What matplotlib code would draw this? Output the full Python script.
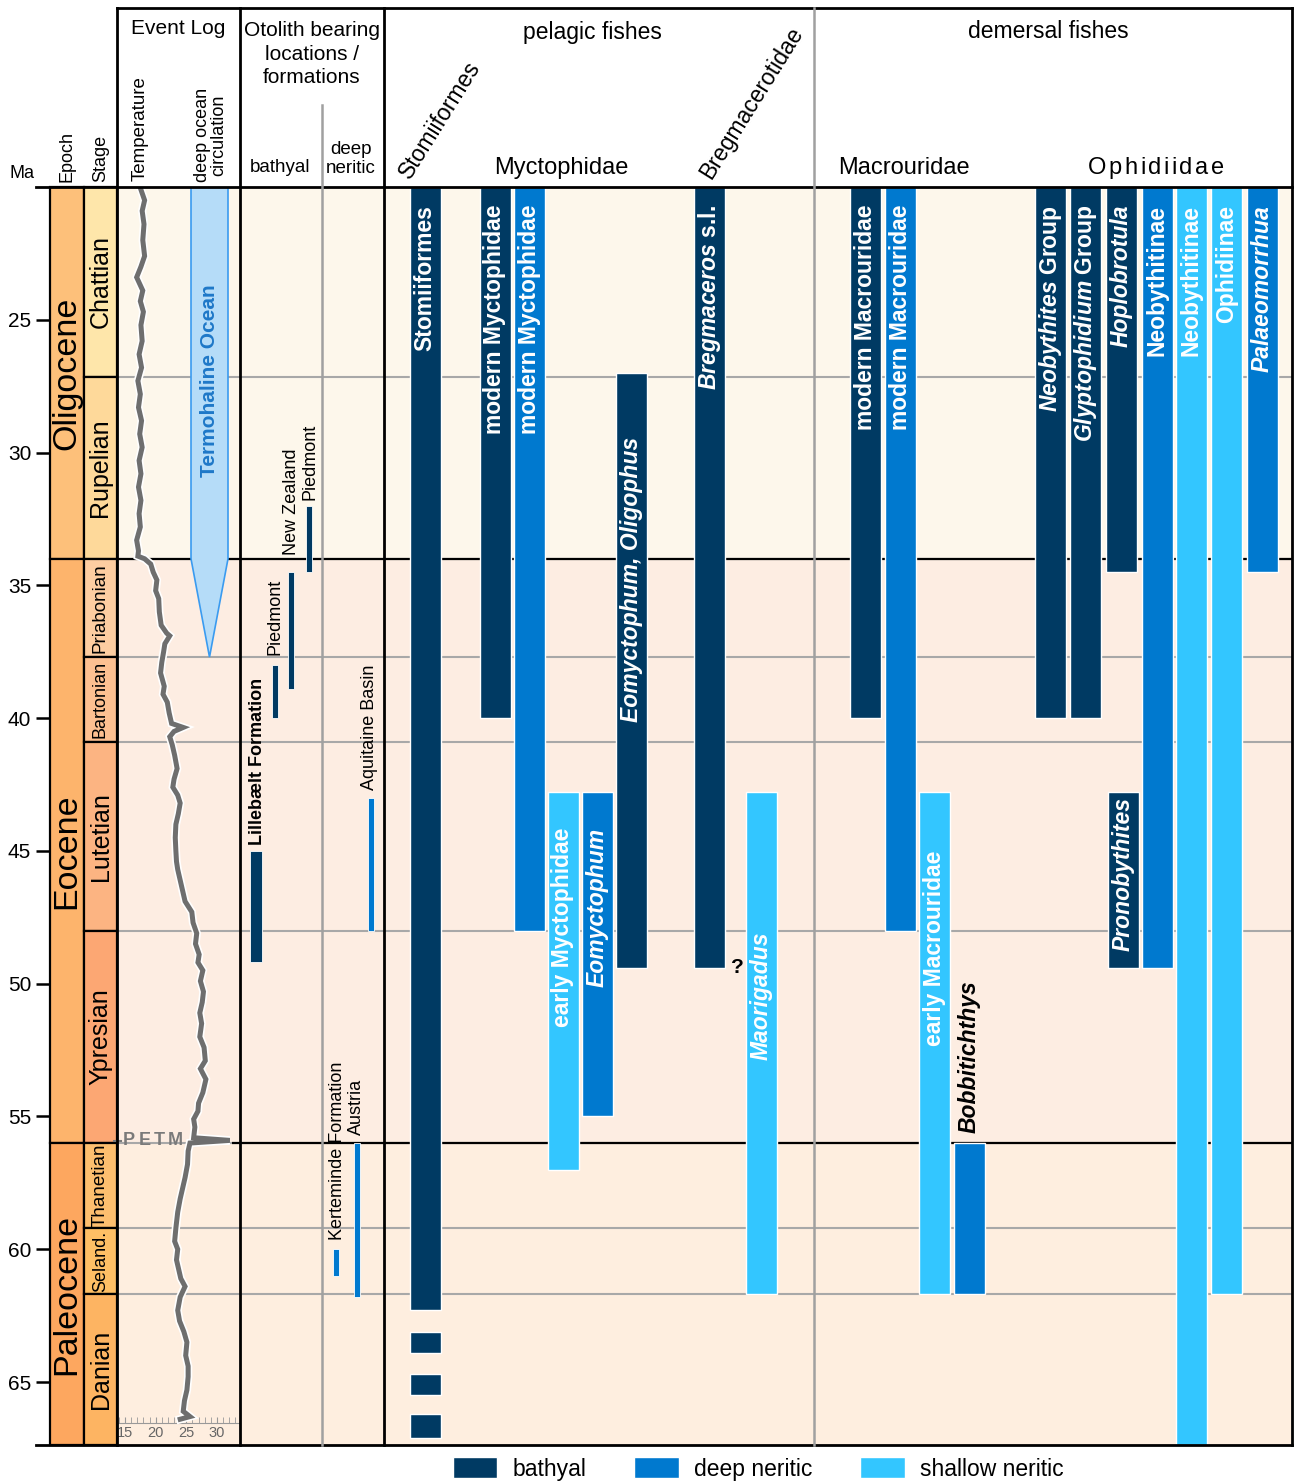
import numpy as np
import matplotlib.pyplot as plt
from matplotlib.patches import Rectangle, Polygon, Patch
import matplotlib.patheffects as pe

plt.rcParams['font.family'] = ['Liberation Sans', 'DejaVu Sans']
plt.rcParams['mathtext.fontset'] = 'custom'
plt.rcParams['mathtext.it'] = 'Liberation Sans:italic:bold'
plt.rcParams['mathtext.rm'] = 'Liberation Sans:bold'

# ==========================================
# Data
# ==========================================
ma_top, ma_base = 20.0, 67.37
ma_ticks = [25, 30, 35, 40, 45, 50, 55, 60, 65]

epochs = ['Oligocene', 'Eocene', 'Paleocene']
epoch_top = [20.0, 34.0, 56.0]
epoch_base = [34.0, 56.0, 67.37]
epoch_colors = ['#FDC07A', '#FDB46C', '#FDA75F']
epoch_bg = ['#FDF7EB', '#FDEDE2', '#FEEEDF']

stages = ['Chattian', 'Rupelian', 'Priabonian', 'Bartonian', 'Lutetian',
          'Ypresian', 'Thanetian', 'Seland.', 'Danian']
stage_top = [20.0, 27.15, 34.0, 37.7, 40.9, 48.0, 56.0, 59.2, 61.7]
stage_base = [27.15, 34.0, 37.7, 40.9, 48.0, 56.0, 59.2, 61.7, 67.37]
stage_colors = ['#FEE6AA', '#FED99A', '#FDCDA1', '#FDC091', '#FCB482',
                '#FCA773', '#FDBF6F', '#FEBF65', '#FDB462']
stage_fs = [18, 18, 13.5, 13, 18, 18, 13.5, 13, 18]

# benthic temperature log (Ma, deg C)
temp_ma = [20.1, 20.5, 20.9, 21.4, 22.0, 22.6, 23.0, 23.4, 23.7, 23.9, 24.3, 24.7,
           25.2, 25.8, 26.3, 26.8, 27.3, 27.8, 28.3, 28.8, 29.3, 29.8, 30.3, 30.8,
           31.3, 31.8, 32.3, 32.8, 33.3, 33.7, 33.9, 34.0, 34.2, 34.5, 34.8, 35.2,
           35.5, 36.0, 36.5, 36.8, 36.9, 37.2, 37.5, 37.9, 38.3, 38.8, 39.1, 39.4,
           39.8, 40.2, 40.35, 40.5, 40.7, 41.0, 41.4, 41.9, 42.3, 42.6, 42.9, 43.2,
           43.6, 44.0, 44.5, 45.0, 45.4, 45.7, 46.1, 46.4, 46.9, 47.3, 47.7, 48.1,
           48.5, 48.9, 49.2, 49.5, 49.9, 50.3, 50.7, 51.1, 51.5, 52.0, 52.4, 52.9,
           53.2, 53.6, 54.1, 54.5, 54.8, 55.1, 55.4, 55.8, 55.9, 56.0, 56.3, 56.8,
           57.3, 57.7, 58.1, 58.6, 59.2, 59.7, 60.0, 60.4, 60.8, 61.1, 61.4, 61.8,
           62.3, 62.7, 63.1, 63.5, 64.0, 64.4, 64.8, 65.3, 65.7, 66.1, 66.3, 66.4]
temp_c = [17.6, 18.2, 17.8, 18.1, 17.9, 18.2, 17.6, 16.9, 17.5, 17.9, 17.5, 18.0,
          17.6, 17.8, 17.3, 17.7, 17.1, 17.5, 17.2, 17.7, 17.4, 17.8, 17.3, 17.6,
          17.2, 17.6, 17.3, 17.5, 16.9, 17.2, 17.1, 18.2, 19.2, 19.6, 20.2, 20.0,
          20.5, 20.6, 20.9, 21.8, 22.3, 21.5, 21.3, 21.0, 20.8, 21.4, 21.2, 21.9,
          22.2, 22.6, 24.5, 23.0, 22.3, 22.7, 23.1, 23.5, 23.0, 22.8, 23.6, 24.0,
          23.7, 23.3, 23.2, 23.3, 23.4, 23.6, 24.0, 24.3, 24.8, 25.9, 26.1, 26.7,
          26.5, 27.1, 26.9, 27.7, 27.3, 27.8, 27.6, 27.2, 27.5, 27.2, 27.9, 28.1,
          27.3, 28.2, 27.7, 27.0, 26.9, 26.2, 26.4, 26.2, 32.1, 25.6, 25.3, 25.2,
          24.8, 24.4, 24.0, 23.6, 23.3, 23.1, 23.6, 23.4, 23.8, 24.1, 24.8, 24.0,
          23.6, 23.9, 24.6, 25.1, 24.9, 25.3, 25.3, 25.1, 24.7, 24.5, 25.6, 24.0]
petm_ma = 55.92

# thermohaline circulation onset
thc_start, thc_taper, thc_end = 20.0, 34.0, 37.7

habitats = ['bathyal', 'deep neritic', 'shallow neritic']
hab_colors = {'bathyal': '#003A63', 'deep neritic': '#0079CF', 'shallow neritic': '#33C6FF'}

# otolith localities
oto_names = ['Lillebælt Formation', 'Piedmont', 'New Zealand', 'Piedmont',
             'Aquitaine Basin', 'Kerteminde Formation', 'Austria']
oto_young = [45.0, 38.0, 34.5, 32.0, 43.0, 60.0, 56.0]
oto_old = [49.2, 40.0, 38.9, 34.5, 48.0, 61.0, 61.8]
oto_hab = ['bathyal', 'bathyal', 'bathyal', 'bathyal',
           'deep neritic', 'deep neritic', 'deep neritic']

# taxon ranges
taxa = ['Stomiiformes', 'modern Myctophidae', 'modern Myctophidae',
        'early Myctophidae', 'Eomyctophum', 'Eomyctophum, Oligophus',
        r'$\mathit{Bregmaceros}$ s.l.', 'Maorigadus',
        'modern Macrouridae', 'modern Macrouridae', 'early Macrouridae',
        'Bobbitichthys', r'$\mathit{Neobythites}$ Group',
        r'$\mathit{Glyptophidium}$ Group', 'Hoplobrotula',
        'Pronobythites', 'Neobythitinae', 'Neobythitinae',
        'Ophidiinae', 'Palaeomorrhua']
taxa_italic = [False, False, False, False, True, True, False, True,
               False, False, False, True, False, False, True,
               True, False, False, False, True]
taxa_young = [20.0, 20.0, 20.0, 42.8, 42.8, 27.0, 20.0, 42.8,
              20.0, 20.0, 42.8, 56.0, 20.0, 20.0, 20.0, 42.8,
              20.0, 20.0, 20.0, 20.0]
taxa_old = [62.3, 40.0, 48.0, 57.0, 55.0, 49.4, 49.4, 61.7,
            40.0, 48.0, 61.7, 61.7, 40.0, 40.0, 34.5, 49.4,
            49.4, 67.37, 61.7, 34.5]
taxa_hab = ['bathyal', 'bathyal', 'deep neritic', 'shallow neritic',
            'deep neritic', 'bathyal', 'bathyal', 'shallow neritic',
            'bathyal', 'deep neritic', 'shallow neritic', 'deep neritic',
            'bathyal', 'bathyal', 'bathyal', 'bathyal',
            'deep neritic', 'shallow neritic', 'shallow neritic', 'deep neritic']
# isolated older Stomiiformes records
stomi_young = [63.1, 64.7, 66.2]
stomi_old = [63.9, 65.5, 67.1]

# ==========================================
# Layout (pixel units)
# ==========================================
W, H = 1294, 1483
y0_px, y1_px = 187, 1445
x0_px, x1_px = 50, 1292

taxa_x = [425, 495, 529.5, 563, 597, 631.5, 709.5, 761.5,
          865.5, 900.5, 934.5, 969.5, 1050.5, 1085.5, 1121, 1123.5,
          1157.5, 1191.5, 1226.5, 1262.5]
taxa_label_top = [20.67, 20.67, 20.67, 44.13, 44.13, 29.41, 20.67, 48.05,
                  20.67, 20.67, 45.0, None, 20.67, 20.67, 20.67, 42.97,
                  20.67, 20.67, 20.67, 20.67]
bar_w = 31

oto_x = [256, 275, 291, 309, 370.5, 336, 356.5]
oto_w = [12, 6, 6, 6, 6, 6, 6]
oto_label_x = [257, 275, 291, 310, 370, 337, 356]
oto_label_bottom = [44.77, 37.62, 33.85, 31.78, 42.70, 59.65, 55.70]

fig = plt.figure(figsize=(W / 100, H / 100), dpi=100)
renderer = fig.canvas.get_renderer()


def spaced_text(axis, xc, y, s, track, **kw):
    """Letter-spaced text centred on xc (x axis in pixel units)."""
    widths = []
    for ch in s:
        t = axis.text(0, y, ch, **kw)
        widths.append(t.get_window_extent(renderer).width)
        t.remove()
    x = xc - (sum(widths) + track * (len(s) - 1)) / 2
    for ch, w in zip(s, widths):
        axis.text(x, y, ch, ha='left', **kw)
        x += w + track


# main chart axes: x in pixel layout units, y in Ma
ax = fig.add_axes([x0_px / W, 1 - y1_px / H, (x1_px - x0_px) / W, (y1_px - y0_px) / H])
ax.set_xlim(x0_px, x1_px)
ax.set_ylim(ma_base, ma_top)
for s in ax.spines.values():
    s.set_visible(False)
ax.set_xticks([])
ax.set_yticks(ma_ticks)
ax.tick_params(axis='y', length=10, width=1.8, pad=3.5, labelsize=15)

# epoch backgrounds
for t, b, c in zip(epoch_top, epoch_base, epoch_bg):
    ax.add_patch(Rectangle((117, t), x1_px - 117, b - t, fc=c, ec='none', zorder=0))

# stage grid lines
ax.hlines(stage_top[1:], 117, x1_px, colors='#A8A8A8', lw=1.5, zorder=1)
ax.hlines(epoch_top[1], 117, x1_px, colors='black', lw=1.6, zorder=1.5)
ax.hlines(epoch_top[2], 232, x1_px, colors='black', lw=1.6, zorder=1.5)

# epoch / stage columns
for name, t, b, c in zip(epochs, epoch_top, epoch_base, epoch_colors):
    ax.add_patch(Rectangle((50, t), 34, b - t, fc=c, ec='black', lw=1.6, clip_on=False, zorder=2))
    ax.text(67, (t + b) / 2, name, rotation=90, ha='center', va='center', fontsize=24.5, zorder=3)
for name, t, b, c, fs in zip(stages, stage_top, stage_base, stage_colors, stage_fs):
    ax.add_patch(Rectangle((84, t), 33, b - t, fc=c, ec='black', lw=1.6, clip_on=False, zorder=2))
    ax.text(100.5, (t + b) / 2, name, rotation=90, ha='center', va='center', fontsize=fs, zorder=3)

# deep ocean circulation
ax.add_patch(Polygon([(191, thc_start), (228, thc_start), (228, thc_taper),
                      (209.5, thc_end), (191, thc_taper)],
                     fc='#B5DCF8', ec='#3A9BF0', lw=1.2, zorder=2))
ax.text(209.5, 27.3, 'Termohaline Ocean', rotation=90, ha='center', va='center',
        color='#1E78C8', fontsize=15, fontweight='bold', zorder=3)

# PETM marker
spaced_text(ax, 153, petm_ma, 'PETM', 3, va='center', color='#7A7A7A',
            fontsize=13, fontweight='bold', zorder=3)
ax.plot([114, 121], [petm_ma, petm_ma], color='#7A7A7A', lw=1.5, clip_on=False, zorder=3)

# otolith localities
for name, yg, od, hb, x, w, lx, lb in zip(oto_names, oto_young, oto_old, oto_hab,
                                          oto_x, oto_w, oto_label_x, oto_label_bottom):
    ax.bar(x, od - yg, bottom=yg, width=w, color=hab_colors[hb], edgecolor='white',
           lw=0.6, zorder=3)
    ax.text(lx, lb, name, rotation=90, ha='center', va='bottom', fontsize=13,
            fontweight='bold' if name.startswith('Lille') else 'normal', zorder=4)

# taxon ranges
for name, it, yg, od, hb, x, lt in zip(taxa, taxa_italic, taxa_young, taxa_old,
                                       taxa_hab, taxa_x, taxa_label_top):
    ax.bar(x, od - yg, bottom=yg, width=bar_w, color=hab_colors[hb], edgecolor='white',
           lw=1, zorder=3)
    if lt is not None:
        ax.text(x, lt, name, rotation=90, ha='center', va='top', color='white',
                fontsize=16.5, fontweight='bold', fontstyle='italic' if it else 'normal',
                zorder=4)
ax.bar([taxa_x[0]] * 3, np.array(stomi_old) - np.array(stomi_young), bottom=stomi_young,
       width=bar_w, color=hab_colors['bathyal'], edgecolor='white', lw=1, zorder=3)
ax.text(taxa_x[11], 55.62, taxa[11], rotation=90, ha='center', va='bottom',
        color='black', fontsize=16.5, fontweight='bold', fontstyle='italic', zorder=4)
ax.text(737, 49.4, '?', ha='center', va='center', fontsize=15, fontweight='bold', zorder=4)

# temperature axes
t_lo = 15 + (117 - 125) / 6.13
t_hi = 15 + (240 - 125) / 6.13
tax = fig.add_axes([117 / W, 1 - y1_px / H, 123 / W, (y1_px - y0_px) / H])
tax.patch.set_visible(False)
tax.set_xlim(t_lo, t_hi)
tax.set_ylim(ma_base, ma_top)
for k in ['top', 'left', 'right']:
    tax.spines[k].set_visible(False)
tax.spines['bottom'].set_position(('data', 66.55))
tax.spines['bottom'].set_color('#999999')
tax.set_yticks([])
tax.set_xticks([15, 20, 25, 30])
tax.set_xticks(np.arange(14, 34, 1), minor=True)
tax.tick_params(axis='x', which='both', direction='in', length=4, color='#999999',
                labelsize=10.5, labelcolor='#666666', pad=2)
tax.plot(temp_c, temp_ma, color='#6E6E6E', lw=3.6, solid_joinstyle='miter',
         path_effects=[pe.Stroke(linewidth=6, foreground='white'), pe.Normal()], zorder=3)

# header / frame overlay in pixel coordinates
hdr = fig.add_axes([0, 0, 1, 1])
hdr.set_xlim(0, W)
hdr.set_ylim(H, 0)
hdr.axis('off')
hdr.patch.set_visible(False)
hdr.set_zorder(5)

hdr.plot([36, x1_px], [y0_px, y0_px], color='black', lw=2)
hdr.plot([36, x1_px], [y1_px, y1_px], color='black', lw=2)
hdr.plot([117, x1_px], [8, 8], color='black', lw=2)
for x in [117, 240, 384, x1_px]:
    hdr.plot([x, x], [8, y1_px], color='black', lw=2)
hdr.plot([814, 814], [8, y1_px], color='#A0A0A0', lw=1.8)
hdr.plot([322, 322], [105, y1_px], color='#A0A0A0', lw=1.8)

hdr.text(22, 173, 'Ma', ha='center', va='center', fontsize=13)
hdr.text(67, 182, 'Epoch', rotation=90, ha='center', va='bottom', fontsize=13)
hdr.text(101, 182, 'Stage', rotation=90, ha='center', va='bottom', fontsize=13)
hdr.text(178, 29, 'Event Log', ha='center', va='center', fontsize=15)
hdr.text(140, 181, 'Temperature', rotation=90, ha='center', va='bottom', fontsize=13.5)
hdr.text(211, 182, 'deep ocean\ncirculation', rotation=90, ha='center', va='bottom',
         fontsize=13, linespacing=0.95)
hdr.text(312, 54, 'Otolith bearing\nlocations /\nformations', ha='center', va='center',
         fontsize=15, linespacing=1.28)
hdr.text(280, 167, 'bathyal', ha='center', va='center', fontsize=13.5)
hdr.text(351, 159, 'deep\nneritic', ha='center', va='center', fontsize=13.5, linespacing=1.1)
hdr.text(592, 32, 'pelagic fishes', ha='center', va='center', fontsize=16.5)
hdr.text(1048, 32, 'demersal fishes', ha='center', va='center', fontsize=16.5)
hdr.text(561, 168, 'Myctophidae', ha='center', va='center', fontsize=17)
hdr.text(904, 168, 'Macrouridae', ha='center', va='center', fontsize=17)
spaced_text(hdr, 1156, 168, 'Ophidiidae', 2.5, va='center', fontsize=17)
hdr.text(410, 180, 'Stomiiformes', rotation=58, rotation_mode='anchor',
         ha='left', va='baseline', fontsize=16.5)
hdr.text(711, 180, 'Bregmacerotidae', rotation=58, rotation_mode='anchor',
         ha='left', va='baseline', fontsize=16.5)

# legend
handles = [Patch(facecolor=hab_colors[h], edgecolor='white', label=h) for h in habitats]
fig.legend(handles=handles, loc='center', bbox_to_anchor=(758 / W, 1 - 1469 / H), ncol=3,
           frameon=False, fontsize=16.5, handlelength=1.95, handleheight=1.0,
           handletextpad=0.65, columnspacing=2.1)

fig.savefig('out.png', dpi=100)
